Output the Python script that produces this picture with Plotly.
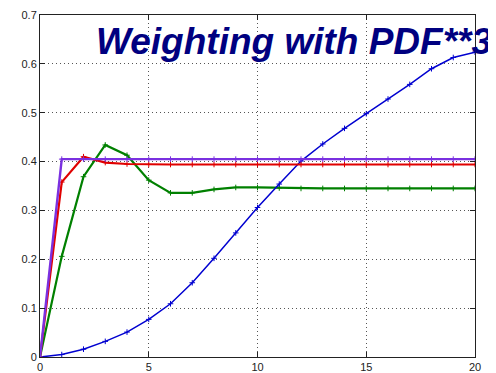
import plotly.graph_objects as go

x_vals = list(range(0, 21))
blue = [0.0, 0.005, 0.016, 0.032, 0.051, 0.077, 0.109, 0.152, 0.202, 0.254, 0.306,
        0.354, 0.401, 0.436, 0.468, 0.498, 0.528, 0.558, 0.590, 0.613, 0.624]
purple = [0.0] + [0.405] * 20
red = [0.0, 0.358, 0.410, 0.398, 0.395] + [0.394] * 16
green = [0.0, 0.206, 0.369, 0.434, 0.413, 0.362, 0.336, 0.336, 0.343, 0.347, 0.347,
         0.346, 0.345, 0.345, 0.345, 0.345, 0.345, 0.345, 0.345, 0.345, 0.345]
x_ticks = [0, 5, 10, 15, 20]
y_ticks = [0, 0.1, 0.2, 0.3, 0.4, 0.5, 0.6, 0.7]
y_ticklabels = ["0", "0.1", "0.2", "0.3", "0.4", "0.5", "0.6", "0.7"]
title_text = "Weighting with PDF**3"

fig = go.Figure()

def add(ys, color, width):
    fig.add_trace(go.Scatter(
        x=x_vals, y=ys, mode="lines+markers",
        line=dict(color=color, width=width),
        marker=dict(symbol="cross-thin", size=4, line=dict(color=color, width=1)),
        showlegend=False, hoverinfo="skip"))

add(green, "#008000", 2.2)
add(blue, "#0000d0", 1.5)
add(red, "#e00000", 2.2)
add(purple, "#7a30e0", 2.4)

axis_common = dict(
    showline=True, linecolor="#222", linewidth=1, mirror="ticks",
    ticks="inside", ticklen=5, tickcolor="#222",
    showgrid=True, gridcolor="#555", griddash="1px,3px", gridwidth=1,
    zeroline=False, automargin=False,
    tickfont=dict(family="Liberation Sans, Arial, sans-serif", size=11, color="#222"),
)

fig.update_xaxes(range=[0, 20], tickvals=x_ticks, **axis_common)
fig.update_yaxes(range=[0, 0.7], tickvals=y_ticks, ticktext=y_ticklabels, **axis_common)

fig.add_annotation(
    x=0.584, y=0.923, xref="paper", yref="paper",
    text="<b><i>" + title_text + "</i></b>", showarrow=False,
    font=dict(family="Liberation Sans, Arial, sans-serif", size=37, color="#000080"),
    xanchor="center", yanchor="middle")

fig.update_layout(
    width=488, height=365,
    margin=dict(l=32, r=21, t=7, b=16),
    paper_bgcolor="white", plot_bgcolor="white",
)

fig.write_html("out.html")
